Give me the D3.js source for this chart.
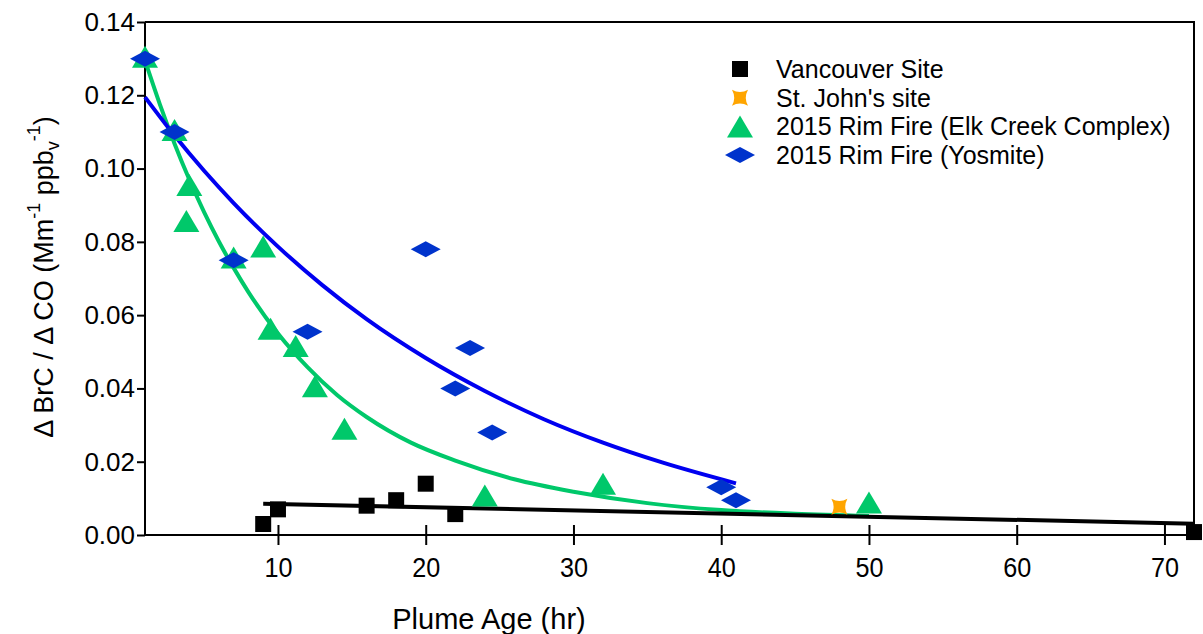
<!DOCTYPE html>
<html>
<head>
<meta charset="utf-8">
<script src="https://cdn.jsdelivr.net/npm/d3@7"></script>
<style>
  html, body { margin: 0; padding: 0; background: #fff; }
  svg { display: block; font-family: "Liberation Sans", Arial, sans-serif; }
</style>
</head>
<body>
<svg id="chart" width="1203" height="634"></svg>
<script>
// Plume age (hr) and ΔBrC/ΔCO (Mm^-1 ppbv^-1) for each site
const vancouverAge = [9, 10, 16, 18, 20, 22, 72];
const vancouverRatio = [0.003, 0.007, 0.008, 0.0095, 0.014, 0.0057, 0.0008];

const stJohnsAge = [48];
const stJohnsRatio = [0.0077];

const elkCreekAge = [1, 3, 4, 3.8, 7, 9, 9.5, 11.2, 12.5, 14.5, 24, 32, 50];
const elkCreekRatio = [0.1305, 0.1105, 0.0955, 0.0857, 0.0757, 0.0787, 0.0563, 0.0516, 0.0406, 0.029, 0.0108, 0.014, 0.0089];

const yosemiteAge = [1, 3, 7, 12, 20, 22, 23, 24.5, 40, 41];
const yosemiteRatio = [0.13, 0.11, 0.075, 0.0555, 0.078, 0.040, 0.051, 0.028, 0.013, 0.0095];

// Fitted trend curves, sampled along their length
const elkCreekFitAge = [1, 2, 3, 4, 5, 6, 7, 8, 10, 12, 14, 16, 19, 22, 26, 30, 35, 40, 45, 50];
const elkCreekFitRatio = [0.1295, 0.1176, 0.1068, 0.0970, 0.0881, 0.0801, 0.0729, 0.0663, 0.0550, 0.0458, 0.0382, 0.0322, 0.0252, 0.0203, 0.0152, 0.0118, 0.0087, 0.0068, 0.0058, 0.0052];

const yosemiteFitAge = [1, 3, 5, 7, 10, 13, 16, 20, 24, 28, 32, 36, 41];
const yosemiteFitRatio = [0.1195, 0.1090, 0.0994, 0.0906, 0.0787, 0.0682, 0.0589, 0.0483, 0.0393, 0.0316, 0.0252, 0.0198, 0.0141];

const vancouverFitAge = [9, 72];
const vancouverFitRatio = [0.0085, 0.0031];

const xTicks = [10, 20, 30, 40, 50, 60, 70];
const yTicks = [0, 0.02, 0.04, 0.06, 0.08, 0.10, 0.12, 0.14];

const legendLabels = ["Vancouver Site", "St. John's site", "2015 Rim Fire (Elk Creek Complex)", "2015 Rim Fire (Yosmite)"];

const svg = d3.select("#chart");
const plotLeft = 145, plotRight = 1194, plotTop = 22, plotBottom = 535;

const x = d3.scaleLinear().domain([1, 72]).range([plotLeft, plotRight]);
const y = d3.scaleLinear().domain([0, 0.14]).range([plotBottom, plotTop]);

const GREEN = "#00c86a", BLUE_LINE = "#0000f0", BLUE = "#0033cc", ORANGE = "#ffa500";
const FONT = "'Liberation Sans', Arial, sans-serif";

// Frame (top and right edges)
svg.append("path")
  .attr("d", `M${plotLeft},${plotTop}H${plotRight}V${plotBottom}`)
  .attr("fill", "none").attr("stroke", "#000").attr("stroke-width", 2);

// Y axis
const yAxis = svg.append("g").attr("transform", `translate(${plotLeft},0)`)
  .call(d3.axisLeft(y).tickValues(yTicks).tickFormat(d3.format(".2f")).tickSize(8).tickPadding(2));
// X axis (ticks cross the axis line)
const xAxis = svg.append("g").attr("transform", `translate(0,${plotBottom})`)
  .call(d3.axisBottom(x).tickValues(xTicks).tickFormat(d3.format("d")).tickSize(10).tickPadding(12));
xAxis.selectAll(".tick line").attr("y1", -10);

[yAxis, xAxis].forEach(g => {
  g.select(".domain").attr("stroke-width", 2);
  g.selectAll(".tick line").attr("stroke-width", 2);
  g.selectAll("text").attr("fill", "#000").attr("font-family", FONT);
});
yAxis.selectAll("text").attr("font-size", 26);
xAxis.selectAll("text").attr("font-size", 28);
yAxis.select(".domain").attr("d", `M0,${plotTop}V${plotBottom}`);
xAxis.select(".domain").attr("d", `M${plotLeft},0H${plotRight}`);
// Narrower digits along the age axis
xAxis.selectAll(".tick text").attr("transform", "scale(0.9,1)");

// Trend lines
const line = d3.line().x(d => x(d[0])).y(d => y(d[1])).curve(d3.curveMonotoneX);
const fits = [
  { age: elkCreekFitAge, ratio: elkCreekFitRatio, color: GREEN },
  { age: yosemiteFitAge, ratio: yosemiteFitRatio, color: BLUE_LINE },
  { age: vancouverFitAge, ratio: vancouverFitRatio, color: "#000" }
];
fits.forEach(f => {
  svg.append("path")
    .datum(f.age.map((a, i) => [a, f.ratio[i]]))
    .attr("d", line)
    .attr("fill", "none").attr("stroke", f.color).attr("stroke-width", 4);
});

// Marker shapes
const squarePath = s => `M${-s},${-s}H${s}V${s}H${-s}Z`;
const trianglePath = (w, h) => `M0,${-h / 2}L${w / 2},${h / 2}L${-w / 2},${h / 2}Z`;
const diamondPath = (w, h) => `M${-w / 2},0L0,${-h / 2}L${w / 2},0L0,${h / 2}Z`;
const starPath = s => `M${-s},${-s}Q0,${-s * 0.45} ${s},${-s}Q${s * 0.45},0 ${s},${s}Q0,${s * 0.45} ${-s},${s}Q${-s * 0.45},0 ${-s},${-s}Z`;

const shapes = {
  square: squarePath(8),
  star: starPath(8),
  triangle: trianglePath(26, 22),
  diamond: diamondPath(30, 16)
};

function drawPoints(ages, ratios, shape, color) {
  svg.append("g").selectAll("path")
    .data(ages.map((a, i) => [a, ratios[i]]))
    .join("path")
    .attr("d", shapes[shape])
    .attr("transform", d => `translate(${x(d[0])},${y(d[1])})`)
    .attr("fill", color);
}

drawPoints(elkCreekAge, elkCreekRatio, "triangle", GREEN);
drawPoints(yosemiteAge, yosemiteRatio, "diamond", BLUE);
drawPoints(vancouverAge, vancouverRatio, "square", "#000");
drawPoints(stJohnsAge, stJohnsRatio, "star", ORANGE);

// Legend
const legendShapes = ["square", "star", "triangle", "diamond"];
const legendColors = ["#000", ORANGE, GREEN, BLUE];
const legend = svg.append("g").attr("transform", "translate(740,69)");
legendLabels.forEach((label, i) => {
  const row = legend.append("g").attr("transform", `translate(0,${i * 28.7})`);
  row.append("path").attr("d", shapes[legendShapes[i]]).attr("fill", legendColors[i]);
  row.append("text").attr("x", 36).attr("y", 9).attr("font-size", 25).attr("fill", "#000").text(label);
});

// Axis titles
svg.append("text")
  .attr("x", 489).attr("y", 629).attr("text-anchor", "middle")
  .attr("font-size", 29).attr("fill", "#000").text("Plume Age (hr)");

const yTitle = svg.append("text")
  .attr("transform", "translate(53,277) rotate(-90)")
  .attr("text-anchor", "middle").attr("font-size", 27).attr("fill", "#000");
yTitle.append("tspan").text("\u0394 BrC / \u0394 CO (Mm");
yTitle.append("tspan").attr("font-size", 18).attr("dy", -13).text("-1");
yTitle.append("tspan").attr("dy", 13).text(" ppb");
yTitle.append("tspan").attr("font-size", 18).attr("dy", 6).text("v");
yTitle.append("tspan").attr("font-size", 18).attr("dy", -19).text("-1");
yTitle.append("tspan").attr("dy", 13).text(")");
</script>
</body>
</html>
